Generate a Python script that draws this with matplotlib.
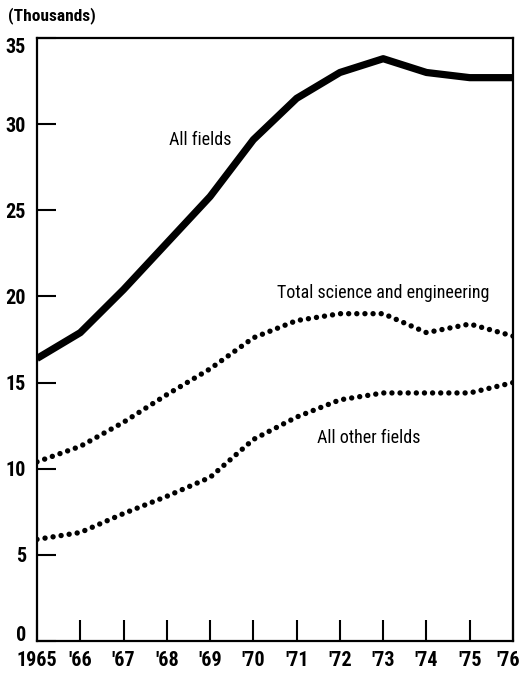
import matplotlib
matplotlib.use("Agg")
import matplotlib.pyplot as plt
import matplotlib.transforms as mtransforms

years = [1965, 1966, 1967, 1968, 1969, 1970, 1971, 1972, 1973, 1974, 1975, 1976]
tick_labels = ["1965", "'66", "'67", "'68", "'69", "'70", "'71", "'72", "'73", "'74", "'75", "'76"]
all_fields = [16.4, 17.9, 20.4, 23.1, 25.8, 29.1, 31.5, 33.0, 33.8, 33.0, 32.7, 32.7]
total_se = [10.4, 11.3, 12.7, 14.3, 15.8, 17.6, 18.6, 19.0, 19.0, 17.9, 18.4, 17.7]
other_fields = [5.9, 6.3, 7.4, 8.4, 9.5, 11.7, 13.0, 14.0, 14.4, 14.4, 14.4, 15.0]
y_ticks = [0, 5, 10, 15, 20, 25, 30, 35]

plt.rcParams["font.family"] = ["Roboto Condensed", "DejaVu Sans"]

fig = plt.figure(figsize=(5.22, 6.73), dpi=100)
ax = fig.add_axes([0.0709, 0.0475, 0.9119, 0.896])

ax.plot(years, all_fields, color="black", lw=5.2, solid_joinstyle="round", solid_capstyle="butt")
ax.plot(years, total_se, color="black", lw=3.9, linestyle=(0, (0.001, 1.5)), dash_capstyle="round")
ax.plot(years, other_fields, color="black", lw=3.9, linestyle=(0, (0.001, 1.5)), dash_capstyle="round")

ax.set_xlim(1965, 1976)
ax.set_ylim(0, 35)
ax.set_xticks(years)
ax.set_xticklabels(tick_labels)
ax.set_yticks(y_ticks)
ax.set_yticklabels([str(v) for v in y_ticks])
ax.tick_params(axis="both", direction="in", width=1.5, color="black", labelsize=14.5)
ax.tick_params(axis="y", length=14, pad=8)
ax.tick_params(axis="x", length=15, pad=7)
for lab in ax.get_xticklabels() + ax.get_yticklabels():
    lab.set_fontweight("bold")
for s in ax.spines.values():
    s.set_linewidth(1.6)

def shift(label, dx_px, dy_px):
    off = mtransforms.ScaledTranslation(dx_px / 100, dy_px / 100, fig.dpi_scale_trans)
    label.set_transform(label.get_transform() + off)

ylabs = ax.get_yticklabels()
shift(ylabs[0], 0, 8)
shift(ylabs[-1], 0, -7)
shift(ax.get_xticklabels()[-1], -5, 0)

ax.text(1968.76, 29.1, "All fields", fontsize=13, ha="center", va="center")
ax.text(1973.0, 20.2, "Total science and engineering", fontsize=13, ha="center", va="center")
ax.text(1972.67, 11.8, "All other fields", fontsize=13, ha="center", va="center")
fig.text(8 / 522, 1 - 16 / 673, "(Thousands)", fontsize=12.5, fontweight="bold", ha="left", va="center")

fig.savefig("out.png", dpi=100, facecolor="white")
